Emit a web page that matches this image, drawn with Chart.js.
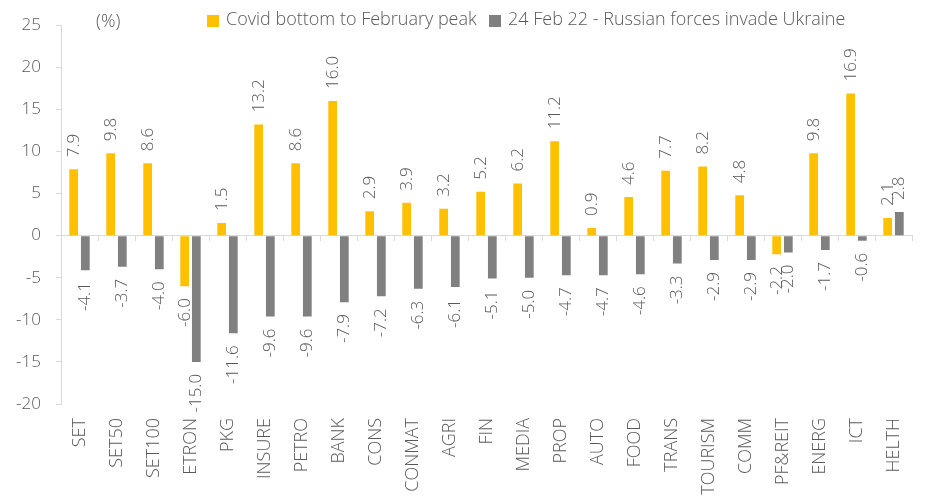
<!DOCTYPE html>
<html>
<head>
<meta charset="utf-8">
<script src="https://cdn.jsdelivr.net/npm/chart.js@4/dist/chart.umd.min.js"></script>
<style>
  html, body { margin: 0; padding: 0; background: #ffffff; }
  #wrap { width: 941px; height: 503px; position: relative; }
</style>
</head>
<body>
<div id="wrap"><canvas id="c" width="941" height="503"></canvas></div>
<script>
const categories = ["SET","SET50","SET100","ETRON","PKG","INSURE","PETRO","BANK","CONS","CONMAT","AGRI","FIN","MEDIA","PROP","AUTO","FOOD","TRANS","TOURISM","COMM","PF&REIT","ENERG","ICT","HELTH"];
const covidBottomToFebPeak = [7.9, 9.8, 8.6, -6.0, 1.5, 13.2, 8.6, 16.0, 2.9, 3.9, 3.2, 5.2, 6.2, 11.2, 0.9, 4.6, 7.7, 8.2, 4.8, -2.2, 9.8, 16.9, 2.1];
const russiaInvasion = [-4.1, -3.7, -4.0, -15.0, -11.6, -9.6, -9.6, -7.9, -7.2, -6.3, -6.1, -5.1, -5.0, -4.7, -4.7, -4.6, -3.3, -2.9, -2.9, -2.0, -1.7, -0.6, 2.8];
const seriesNames = ["Covid bottom to February peak", "24 Feb 22 - Russian forces invade Ukraine"];
const yTicks = { min: -20, max: 25, step: 5 };
const unitLabel = "(%)";

const YELLOW = "#FFC000";
const GREY = "#808080";
const TEXT = "#595959";
const AXIS = "#D9D9D9";
const FONT = "'Open Sans', Lato, sans-serif";
const WEIGHT = "300";

const valueLabels = {
  id: 'valueLabels',
  afterDatasetsDraw(chart) {
    const ctx = chart.ctx;
    ctx.save();
    ctx.font = WEIGHT + " 17px " + FONT;
    ctx.fillStyle = TEXT;
    ctx.textBaseline = 'middle';
    chart.data.datasets.forEach((ds, di) => {
      const meta = chart.getDatasetMeta(di);
      meta.data.forEach((bar, i) => {
        const v = ds.data[i];
        const txt = v.toFixed(1);
        ctx.save();
        ctx.translate(bar.x, v >= 0 ? bar.y - 12 : bar.y + 12);
        ctx.rotate(-Math.PI / 2);
        ctx.textAlign = v >= 0 ? 'left' : 'right';
        ctx.fillText(txt, 0, 0);
        ctx.restore();
      });
    });
    ctx.restore();
  }
};

const topLegend = {
  id: 'topLegend',
  afterDraw(chart) {
    const ctx = chart.ctx;
    ctx.save();
    ctx.font = WEIGHT + " 18px " + FONT;
    ctx.fillStyle = TEXT;
    ctx.textBaseline = 'middle';
    ctx.textAlign = 'left';
    ctx.fillText(unitLabel, 96, 22);
    const items = [
      { x: 207, color: chart.data.datasets[0].backgroundColor, text: chart.data.datasets[0].label },
      { x: 489, color: chart.data.datasets[1].backgroundColor, text: chart.data.datasets[1].label }
    ];
    items.forEach(it => {
      ctx.fillStyle = it.color;
      ctx.fillRect(it.x, 15, 12, 12);
      ctx.fillStyle = TEXT;
      ctx.fillText(it.text, it.x + 19, 20);
    });
    ctx.restore();
  }
};

new Chart(document.getElementById('c'), {
  type: 'bar',
  data: {
    labels: categories,
    datasets: [
      { label: seriesNames[0], data: covidBottomToFebPeak, backgroundColor: YELLOW, categoryPercentage: 0.63, barPercentage: 0.75 },
      { label: seriesNames[1], data: russiaInvasion, backgroundColor: GREY, categoryPercentage: 0.63, barPercentage: 0.75 }
    ]
  },
  options: {
    responsive: false,
    animation: false,
    events: [],
    layout: { padding: { left: 0, right: 29, top: 25, bottom: 0 } },
    plugins: { legend: { display: false }, tooltip: { enabled: false } },
    scales: {
      x: {
        type: 'category',
        position: { y: 0 },
        offset: true,
        grid: { display: true, offset: true, drawOnChartArea: false, drawTicks: true, tickLength: 5, color: AXIS },
        border: { display: true, color: AXIS, width: 1 },
        ticks: { display: false },
        afterFit(s) { s.height = 0; }
      },
      x2: {
        type: 'category',
        position: 'bottom',
        offset: true,
        grid: { display: false, drawTicks: false },
        border: { display: false },
        ticks: { color: TEXT, font: { family: FONT, size: 18, weight: WEIGHT }, minRotation: 90, maxRotation: 90, padding: 14, autoSkip: false },
        afterFit(s) { s.height = 99; }
      },
      y: {
        min: yTicks.min,
        max: yTicks.max,
        ticks: { stepSize: yTicks.step, color: TEXT, font: { family: FONT, size: 17, weight: WEIGHT }, padding: 15 },
        grid: { display: true, drawOnChartArea: false, drawTicks: true, tickLength: 5, color: AXIS },
        border: { display: true, color: AXIS, width: 1 },
        afterFit(s) { s.width = 61; }
      }
    }
  },
  plugins: [valueLabels, topLegend]
});
</script>
</body>
</html>
